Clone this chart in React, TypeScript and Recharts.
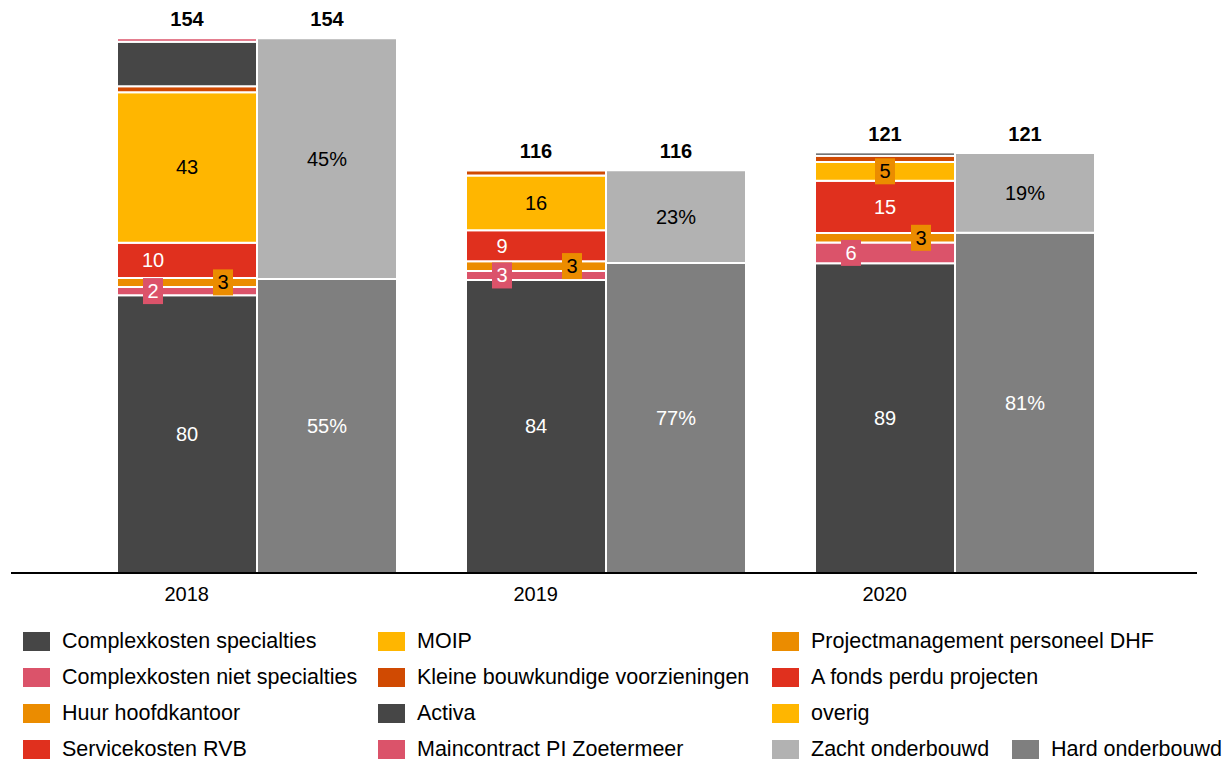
import { Bar, BarChart, LabelList, XAxis, YAxis } from "recharts";

const YEARS = ["2018", "2019", "2020"];
const TOTALS = [154, 116, 121];

// kosten per categorie, van onder naar boven gestapeld
const COMPLEX_SPEC = [80, 84.4, 89.2];
const COMPLEX_NIET = [2.4, 2.6, 6.0];
const HUUR = [2.6, 2.8, 2.7];
const SERVICE_RVB = [10.1, 8.9, 15.1];
const MOIP = [43.4, 15.8, 5.4];
const KLEINE = [1.7, 1.4, 1.8];
const ACTIVA = [12.8, 0, 0.9];
const MAINCONTRACT = [1.0, 0, 0];

// onderbouwing in % van het totaal
const HARD_PCT = [55, 77, 81];
const ZACHT_PCT = [45, 23, 19];

const DARK = "#464646";
const PINK = "#DB536A";
const ORANGE = "#EB8C00";
const RED = "#E0301E";
const YELLOW = "#FFB600";
const TANGERINE = "#D04A02";
const LIGHT_GREY = "#B2B2B2";
const MID_GREY = "#7F7F7F";

const FONT = "'Liberation Sans', Arial, sans-serif";

type LabelStyle = {
  text: string;
  dx?: number[];
  box?: (string | null)[];
  pct?: number[];
};

const COST_SERIES: { key: string; values: number[]; color: string; label?: LabelStyle }[] = [
  { key: "Complexkosten specialties", values: COMPLEX_SPEC, color: DARK, label: { text: "#fff" } },
  {
    key: "Complexkosten niet specialties",
    values: COMPLEX_NIET,
    color: PINK,
    label: { text: "#fff", dx: [-34, -34, -34], box: [PINK, PINK, PINK] },
  },
  {
    key: "Huur hoofdkantoor",
    values: HUUR,
    color: ORANGE,
    label: { text: "#000", dx: [36, 36, 36], box: [ORANGE, ORANGE, ORANGE] },
  },
  { key: "Servicekosten RVB", values: SERVICE_RVB, color: RED, label: { text: "#fff", dx: [-34, -34, 0] } },
  { key: "MOIP", values: MOIP, color: YELLOW, label: { text: "#000", box: [null, null, ORANGE] } },
  { key: "Kleine bouwkundige voorzieningen", values: KLEINE, color: TANGERINE },
  { key: "Activa", values: ACTIVA, color: DARK },
  { key: "Maincontract PI Zoetermeer", values: MAINCONTRACT, color: PINK },
];

const LEGEND_COLUMNS = [
  {
    left: 23,
    items: [
      ["Complexkosten specialties", DARK],
      ["Complexkosten niet specialties", PINK],
      ["Huur hoofdkantoor", ORANGE],
      ["Servicekosten RVB", RED],
    ],
  },
  {
    left: 378,
    items: [
      ["MOIP", YELLOW],
      ["Kleine bouwkundige voorzieningen", TANGERINE],
      ["Activa", DARK],
      ["Maincontract PI Zoetermeer", PINK],
    ],
  },
  {
    left: 772,
    items: [
      ["Projectmanagement personeel DHF", ORANGE],
      ["A fonds perdu projecten", RED],
      ["overig", YELLOW],
      ["Zacht onderbouwd", LIGHT_GREY],
    ],
  },
];
const LEGEND_EXTRA = { left: 1012, row: 3, name: "Hard onderbouwd", color: MID_GREY };
const LEGEND_ROWS = [641.5, 677.5, 713.5, 749.5];

const data = YEARS.map((year, i) => {
  const row: Record<string, number | string> = { year };
  COST_SERIES.forEach((s) => (row[s.key] = s.values[i]));
  row.hard = (HARD_PCT[i] * TOTALS[i]) / 100;
  row.zacht = (ZACHT_PCT[i] * TOTALS[i]) / 100;
  return row;
});

const box = (p: any) => {
  const vb = p.viewBox ?? p;
  return { x: Number(vb.x), y: Number(vb.y), width: Number(vb.width), height: Number(vb.height) };
};

const segmentLabel = (style: LabelStyle) => (props: any) => {
  const { value, index } = props;
  if (!value) return null;
  const { x, y, width, height } = box(props);
  const cx = x + width / 2 + (style.dx?.[index] ?? 0);
  const cy = y + height / 2;
  const text = style.pct ? `${style.pct[index]}%` : String(Math.round(Number(value)));
  const bg = style.box?.[index];
  return (
    <g>
      {bg && <rect x={cx - 10} y={cy - 13} width={20} height={26} fill={bg} />}
      <text
        x={cx}
        y={cy}
        textAnchor="middle"
        dominantBaseline="central"
        fill={style.text}
        fontSize={20}
        fontFamily={FONT}
      >
        {text}
      </text>
    </g>
  );
};

// totaal boven beide staven (zelfde hoogte), getekend vanaf de bovenste grijze staaf
const totalLabel = (props: any) => {
  const { index } = props;
  const { x, y, width } = box(props);
  const centers = [x - width / 2, x + width / 2];
  return (
    <g>
      {centers.map((cx) => (
        <text
          key={cx}
          x={cx}
          y={y - 12}
          textAnchor="middle"
          fontSize={20}
          fontWeight="bold"
          fontFamily={FONT}
          fill="#000"
        >
          {TOTALS[index]}
        </text>
      ))}
    </g>
  );
};

const YearTick = (props: any) => {
  const { x, y, payload } = props;
  return (
    <text x={x - 69.75} y={y + 28} textAnchor="middle" fontSize={20} fontFamily={FONT} fill="#000">
      {payload.value}
    </text>
  );
};

export default function App() {
  return (
    <div style={{ position: "absolute", left: 0, top: 0, width: 1223, height: 759, background: "#fff", fontFamily: FONT }}>
      <BarChart
        width={1223}
        height={613}
        data={data}
        margin={{ top: 17.5, right: 26, bottom: 0, left: 11 }}
        barCategoryGap={35}
        barGap={0}
      >
        <XAxis
          dataKey="year"
          height={40}
          padding={{ left: 71, right: 68 }}
          axisLine={{ stroke: "#000", strokeWidth: 2 }}
          tickLine={false}
          tickSize={0}
          tickMargin={0}
          tick={<YearTick />}
          interval={0}
        />
        <YAxis hide domain={[0, 160]} />
        {COST_SERIES.map((s) => (
          <Bar
            key={s.key}
            dataKey={s.key}
            stackId="kosten"
            fill={s.color}
            stroke="#fff"
            strokeWidth={2}
            isAnimationActive={false}
          >
            {s.label && <LabelList dataKey={s.key} content={segmentLabel(s.label)} />}
          </Bar>
        ))}
        <Bar dataKey="hard" stackId="onderbouwing" fill={MID_GREY} stroke="#fff" strokeWidth={2} isAnimationActive={false}>
          <LabelList dataKey="hard" content={segmentLabel({ text: "#fff", pct: HARD_PCT })} />
        </Bar>
        <Bar dataKey="zacht" stackId="onderbouwing" fill={LIGHT_GREY} stroke="#fff" strokeWidth={2} isAnimationActive={false}>
          <LabelList dataKey="zacht" content={segmentLabel({ text: "#000", pct: ZACHT_PCT })} />
          <LabelList dataKey="zacht" content={totalLabel} />
        </Bar>
      </BarChart>

      {LEGEND_COLUMNS.map((col) =>
        col.items.map(([name, color], r) => (
          <LegendItem key={name + r} left={col.left} top={LEGEND_ROWS[r]} name={name} color={color} />
        ))
      )}
      <LegendItem
        left={LEGEND_EXTRA.left}
        top={LEGEND_ROWS[LEGEND_EXTRA.row]}
        name={LEGEND_EXTRA.name}
        color={LEGEND_EXTRA.color}
      />
    </div>
  );
}

function LegendItem({ left, top, name, color }: { left: number; top: number; name: string; color: string }) {
  return (
    <div
      style={{
        position: "absolute",
        left,
        top: top - 12,
        height: 24,
        display: "flex",
        alignItems: "center",
        whiteSpace: "nowrap",
        fontSize: 21.5,
        color: "#000",
      }}
    >
      <span style={{ display: "inline-block", width: 27, height: 19, background: color, marginRight: 12 }} />
      {name}
    </div>
  );
}
